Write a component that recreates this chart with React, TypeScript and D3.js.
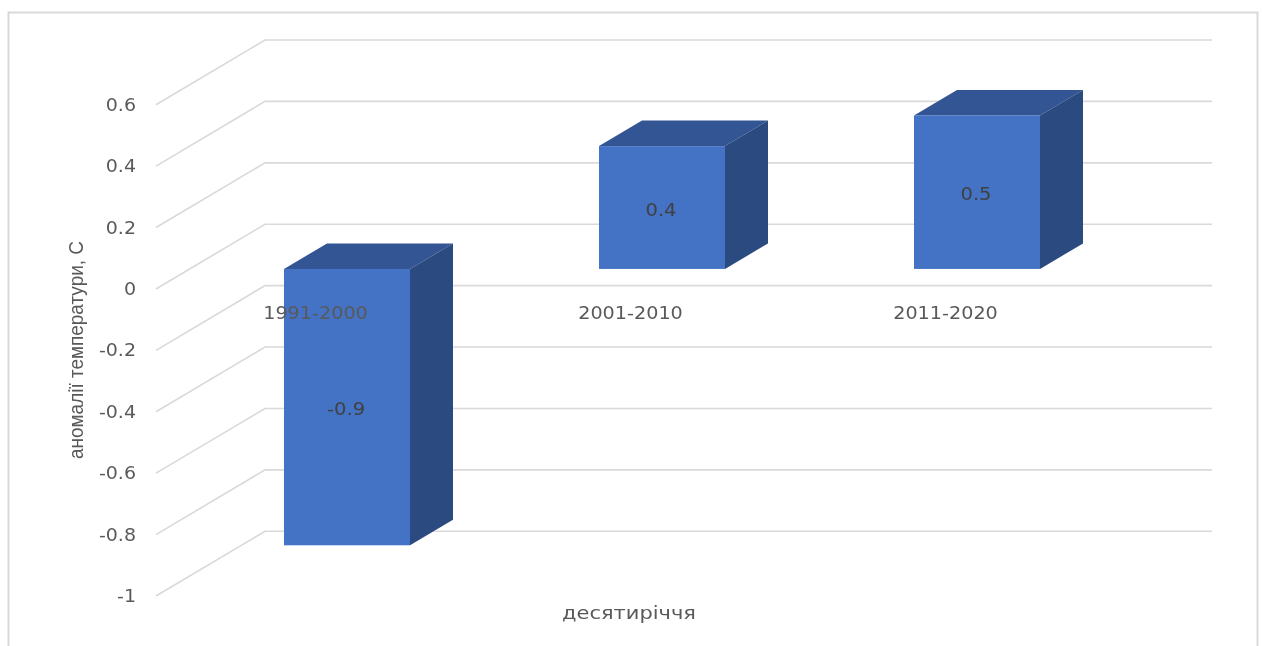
import React from "react";
import * as d3 from "d3";

const categories = ["1991-2000", "2001-2010", "2011-2020"];
const values = [-0.9, 0.4, 0.5];
const valueLabels = ["-0.9", "0.4", "0.5"];
const ticks = [0.6, 0.4, 0.2, 0, -0.2, -0.4, -0.6, -0.8, -1];
const xTitle = "десятиріччя";
const yTitle = "аномалії температури, С";

const W = 1263;
const H = 646;
const y = d3.scaleLinear().domain([-1, 0.6]).range([596, 104.7]);
const x = d3.scaleBand<string>().domain(categories).range([189.5, 1134.5]).paddingInner(0.6).paddingOuter(0.3);

const wallDx = 109;
const wallDy = 64.7;
const wallLeft = 156;
const wallRight = 1212;
const barFloor = 20; // bar front face sits this far up the floor from the front edge
const depthX = 43;
const depthY = 25.5;
const FRONT = "#4472c4";
const TOP = "#335593";
const SIDE = "#2a4a80";
const GRID = "#d9d9d9";
const TEXT = "#595959";
const FONT = "'DejaVu Sans', sans-serif";

const poly = (pts: [number, number][]) => pts.map((p) => p.join(",")).join(" ");
const tick = (v: number) => String(v);

export default function App() {
  return (
    <svg
      width={W}
      height={H}
      style={{ position: "fixed", left: 0, top: 0, filter: "blur(0.45px)" }}
      fontFamily={FONT}
    >
      <rect width={W} height={H} fill="#fff" />
      <path d="M8.5,646V12.5H1257.5V646" fill="none" stroke={GRID} strokeWidth={2} />

      {ticks.map((t) => {
        const fy = y(t);
        return (
          <g key={t}>
            <polyline
              points={poly([[wallLeft, fy], [wallLeft + wallDx, fy - wallDy], [wallRight, fy - wallDy]])}
              fill="none"
              stroke={GRID}
              strokeWidth={1.6}
            />
            <text
              transform={`translate(136,${fy + 6}) scale(1.12,1)`}
              textAnchor="end"
              fontSize={17}
              fill={TEXT}
            >
              {tick(t)}
            </text>
          </g>
        );
      })}

      {categories.map((c, i) => {
        const x0 = x(c)!;
        const x1 = x0 + x.bandwidth();
        const base = y(0) - barFloor;
        const top = y(values[i]) - barFloor;
        const yTop = Math.min(base, top);
        const yBot = Math.max(base, top);
        return (
          <g key={c}>
            <polygon
              points={poly([[x0, yTop], [x0 + depthX, yTop - depthY], [x1 + depthX, yTop - depthY], [x1, yTop]])}
              fill={TOP}
            />
            <polygon
              points={poly([[x1, yTop], [x1 + depthX, yTop - depthY], [x1 + depthX, yBot - depthY], [x1, yBot]])}
              fill={SIDE}
            />
            <rect x={x0} y={yTop} width={x.bandwidth()} height={yBot - yTop} fill={FRONT} />
          </g>
        );
      })}

      {categories.map((c, i) => {
        const cx = x(c)! + x.bandwidth() / 2;
        const base = y(0) - barFloor;
        const top = y(values[i]) - barFloor;
        return (
          <g key={c + "-labels"}>
            <text
              transform={`translate(${cx - 31 * 0 - 0.5 - 31.5 * 0},319) scale(1.13,1)`}
              textAnchor="middle"
              fontSize={17}
              fill={TEXT}
              dx={-27}
              style={{ display: "none" }}
            />
            <text
              transform={`translate(${cx - 31.5},319) scale(1.13,1)`}
              textAnchor="middle"
              fontSize={17}
              fill={TEXT}
            >
              {c}
            </text>
            <text
              transform={`translate(${cx - 1},${(base + top) / 2 + 8}) scale(1.15,1)`}
              textAnchor="middle"
              fontSize={17}
              fill="#404040"
            >
              {valueLabels[i]}
            </text>
          </g>
        );
      })}

      <text
        x={629}
        y={619}
        textAnchor="middle"
        fontSize={17}
        fill={TEXT}
        textLength={134}
        lengthAdjust="spacingAndGlyphs"
      >
        {xTitle}
      </text>
      <text
        transform="translate(83,350) rotate(-90)"
        textAnchor="middle"
        fontSize={21}
        fontFamily="'Liberation Sans', sans-serif"
        fill={TEXT}
        textLength={218}
        lengthAdjust="spacingAndGlyphs"
      >
        {yTitle}
      </text>
    </svg>
  );
}
